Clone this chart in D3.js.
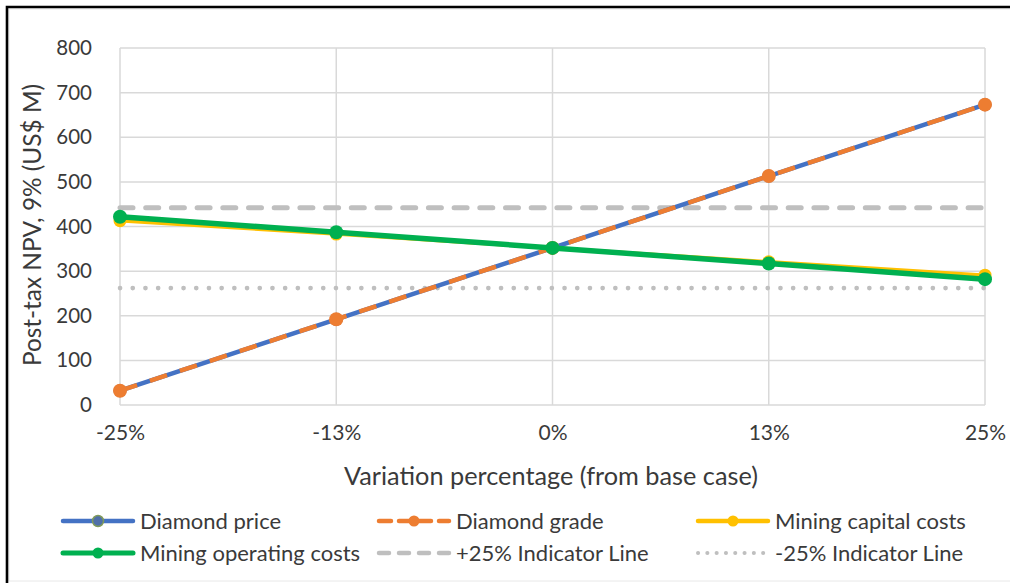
<!DOCTYPE html>
<html>
<head>
<meta charset="utf-8">
<script src="https://cdn.jsdelivr.net/npm/d3@7"></script>
<style>
  html, body { margin: 0; padding: 0; background: #fff; }
  svg { display: block; font-family: Lato, "Open Sans", sans-serif; }
</style>
</head>
<body>
<svg id="chart" width="1010" height="583"></svg>
<script>
// Sensitivity of post-tax NPV (9%, US$ M) to variations from the base case
const categories = ["-25%", "-13%", "0%", "13%", "25%"];
const diamondPrice = [32, 192, 352, 513, 673];
const diamondGrade = [32, 192, 352, 513, 673];
const miningCapitalCosts = [413, 383, 352, 321, 291];
const miningOperatingCosts = [422, 387, 352, 317, 282];
const plus25Indicator = [442, 442, 442, 442, 442];
const minus25Indicator = [262, 262, 262, 262, 262];
const yTicks = [0, 100, 200, 300, 400, 500, 600, 700, 800];

const svg = d3.select("#chart");
const W = 1010, H = 583;
const textColor = "#3a3a3a";

// outer frame
svg.append("rect").attr("x", 9).attr("y", 9).attr("width", W + 10).attr("height", H - 11)
  .attr("fill", "#fff").attr("stroke", "#e8e8e8").attr("stroke-width", 1);
svg.append("path").attr("d", `M7,${H + 5}V7H${W + 5}`)
  .attr("fill", "none").attr("stroke", "#000").attr("stroke-width", 2.6);

const plot = { left: 120, right: 985, top: 48, bottom: 405 };
const x = d3.scalePoint().domain(categories).range([plot.left, plot.right]);
const y = d3.scaleLinear().domain([0, 800]).range([plot.bottom, plot.top]);

// gridlines
const grid = svg.append("g");
grid.selectAll("line.h").data(yTicks).join("line")
  .attr("x1", plot.left).attr("x2", plot.right)
  .attr("y1", d => y(d)).attr("y2", d => y(d))
  .attr("stroke", "#d9d9d9").attr("stroke-width", 1.5);
grid.selectAll("line.v").data(categories).join("line")
  .attr("x1", d => x(d)).attr("x2", d => x(d))
  .attr("y1", plot.top).attr("y2", plot.bottom)
  .attr("stroke", "#d9d9d9").attr("stroke-width", 1.5);

// axes (labels only)
const yAxis = d3.axisLeft(y).tickValues(yTicks).tickSize(0).tickPadding(0);
svg.append("g").attr("transform", `translate(${plot.left - 28},0)`).call(yAxis)
  .call(g => g.select(".domain").remove())
  .selectAll("text").attr("fill", textColor).style("font-size", "20.5px")
  .style("font-family", "Lato, sans-serif");

const xAxis = d3.axisBottom(x).tickSize(0).tickPadding(0);
svg.append("g").attr("transform", `translate(0,${plot.bottom + 20})`).call(xAxis)
  .call(g => g.select(".domain").remove())
  .selectAll("text").attr("fill", textColor).style("font-size", "21px")
  .style("font-family", "Lato, sans-serif");

// axis titles
svg.append("text").attr("x", 551).attr("y", 485).attr("text-anchor", "middle")
  .attr("fill", textColor).style("font-size", "25.3px")
  .text("Variation percentage (from base case)");
svg.append("text").attr("transform", "translate(41,225) rotate(-90)")
  .attr("text-anchor", "middle").attr("fill", textColor).style("font-size", "24.4px")
  .text("Post-tax NPV, 9% (US$ M)");

// series definitions
const series = [
  { name: "Indicator+", values: plus25Indicator, color: "#bfbfbf", width: 5, dash: "13,12.7", cap: "round", marker: false },
  { name: "Indicator-", values: minus25Indicator, color: "#bfbfbf", width: 4.6, dash: "0.1,12.6", cap: "round", marker: false },
  { name: "Diamond price", values: diamondPrice, color: "#4472c4", width: 4.5, dash: null, cap: "butt", marker: true, r: 6.5, fill: "#4472c4" },
  { name: "Diamond grade", values: diamondGrade, color: "#ed7d31", width: 4.5, dash: "18,13.5", cap: "butt", marker: true, r: 7, fill: "#ed7d31" },
  { name: "Mining capital costs", values: miningCapitalCosts, color: "#ffc000", width: 3.5, dash: null, cap: "round", marker: true, r: 6.5, fill: "#ffc000" },
  { name: "Mining operating costs", values: miningOperatingCosts, color: "#00b050", width: 5.5, dash: null, cap: "round", marker: true, r: 7, fill: "#00b050" }
];

const line = d3.line().x((d, i) => x(categories[i])).y(d => y(d));

series.forEach(s => {
  const g = svg.append("g");
  g.append("path").datum(s.values).attr("d", line)
    .attr("fill", "none").attr("stroke", s.color).attr("stroke-width", s.width)
    .attr("stroke-linecap", s.cap).attr("stroke-linejoin", "round")
    .attr("stroke-dasharray", s.dash);
  if (s.marker) {
    g.selectAll("circle").data(s.values).join("circle")
      .attr("cx", (d, i) => x(categories[i])).attr("cy", d => y(d))
      .attr("r", s.r).attr("fill", s.fill);
  }
});

// legend
const legendItems = [
  { label: "Diamond price", color: "#4472c4", width: 4.5, dash: null, cap: "round", marker: "#4f6fa8", markerStroke: "#7f9a5a", col: 0, row: 0 },
  { label: "Diamond grade", color: "#ed7d31", width: 4.5, dash: "12,8", cap: "round", marker: "#ed7d31", col: 1, row: 0 },
  { label: "Mining capital costs", color: "#ffc000", width: 4.5, dash: null, cap: "round", marker: "#ffc000", col: 2, row: 0 },
  { label: "Mining operating costs", color: "#00b050", width: 5, dash: null, cap: "round", marker: "#00b050", col: 0, row: 1 },
  { label: "+25% Indicator Line", color: "#bfbfbf", width: 4.5, dash: "10,10", cap: "round", marker: null, col: 1, row: 1 },
  { label: "-25% Indicator Line", color: "#bfbfbf", width: 4, dash: "0.1,9.2", cap: "round", marker: null, col: 2, row: 1 }
];
const colX = [63, 379, 698];
const rowY = [521, 553];
const legend = svg.append("g");
legendItems.forEach(it => {
  const g = legend.append("g").attr("transform", `translate(${colX[it.col]},${rowY[it.row]})`);
  g.append("line").attr("x1", 0).attr("x2", 70).attr("y1", 0).attr("y2", 0)
    .attr("stroke", it.color).attr("stroke-width", it.width)
    .attr("stroke-linecap", it.cap).attr("stroke-dasharray", it.dash);
  if (it.marker) {
    g.append("circle").attr("cx", 35).attr("cy", 0).attr("r", 5.5)
      .attr("fill", it.marker)
      .attr("stroke", it.markerStroke || "none").attr("stroke-width", 1.5);
  }
  g.append("text").attr("x", 77).attr("y", 7.5).attr("fill", textColor)
    .style("font-size", "22px").text(it.label);
});
</script>
</body>
</html>
